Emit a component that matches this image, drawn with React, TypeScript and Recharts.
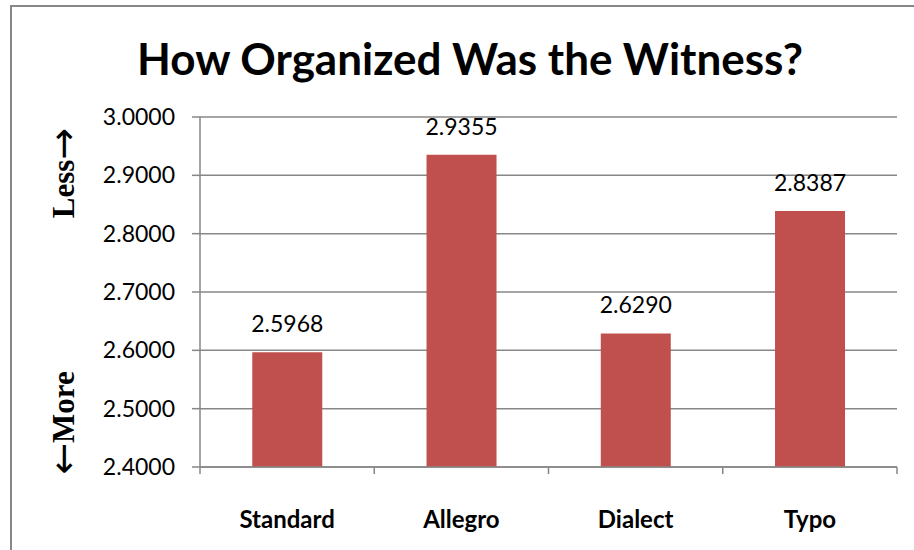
import React from "react";
import { BarChart, Bar, XAxis, YAxis, CartesianGrid, LabelList } from "recharts";

const categories = ["Standard", "Allegro", "Dialect", "Typo"];
const values = [2.5968, 2.9355, 2.629, 2.8387];
const yTicks = [2.4, 2.5, 2.6, 2.7, 2.8, 2.9, 3.0];
const titleText = "How Organized Was the Witness?";
const yLabelLowArrow = "\u2190";
const yLabelLowWord = "More";
const yLabelHighWord = "Less";
const yLabelHighArrow = "\u2192";

const data = categories.map((c, i) => ({ name: c, value: values[i] }));

const AXIS = "#878787";
const BAR = "#C0504D";
const SANS = "Lato, 'Open Sans', sans-serif";
const SERIF = "'Liberation Serif', 'Times New Roman', serif";
const ARROWFONT = "'DejaVu Sans', sans-serif";
const X_TICK_SIZE = 7;
const X_TICK_MARGIN = 24;

const XTick = (props: any) => {
  const { x, y, payload, index, visibleTicksCount, width } = props;
  const band = width / visibleTicksCount;
  const y0 = y - X_TICK_MARGIN - X_TICK_SIZE;
  const y1 = y - X_TICK_MARGIN;
  return (
    <g>
      <line x1={x - band / 2} x2={x - band / 2} y1={y0} y2={y1} stroke={AXIS} strokeWidth={1.5} />
      {index === visibleTicksCount - 1 && (
        <line x1={x + band / 2} x2={x + band / 2} y1={y0} y2={y1} stroke={AXIS} strokeWidth={1.5} />
      )}
      <text x={x} y={y} dy={30} textAnchor="middle" fontFamily={SANS} fontWeight={700} fontSize={24} fill="#000">
        {payload.value}
      </text>
    </g>
  );
};

const YLabel = (props: any) => {
  const vb = props.viewBox || {};
  const cx = 63;
  const top = vb.y;
  const h = vb.height;
  const yHigh = top + 56;
  const yLow = top + h - 44;
  return (
    <g>
      <text x={cx} y={yHigh} transform={`rotate(-90 ${cx} ${yHigh})`} textAnchor="middle" dominantBaseline="central"
        fontFamily={SERIF} fontWeight={700} fontSize={31} fill="#000">
        {yLabelHighWord}
        <tspan fontFamily={ARROWFONT} fontWeight={400} fontSize={38}>{yLabelHighArrow}</tspan>
      </text>
      <text x={cx} y={yLow} transform={`rotate(-90 ${cx} ${yLow})`} textAnchor="middle" dominantBaseline="central"
        fontFamily={SERIF} fontWeight={700} fontSize={31} fill="#000">
        <tspan fontFamily={ARROWFONT} fontWeight={400} fontSize={38}>{yLabelLowArrow}</tspan>
        {yLabelLowWord}
      </text>
    </g>
  );
};

export default function App() {
  return (
    <div style={{ position: "absolute", left: 0, top: 0, width: 914, height: 550, background: "#fff", overflow: "hidden" }}>
      <div style={{ position: "absolute", left: 10, top: 5, right: -4, bottom: -4, borderTop: `2px solid ${AXIS}`, borderLeft: `2px solid ${AXIS}` }} />
      <div style={{ position: "absolute", left: 20, width: 900, top: 31, textAlign: "center", fontFamily: SANS, fontWeight: 700, fontSize: 44, lineHeight: "54px", color: "#000" }}>
        {titleText}
      </div>
      <div style={{ position: "absolute", left: 0, top: 0 }}>
        <BarChart width={914} height={550} data={data} margin={{ top: 117, right: 17, bottom: 23, left: 0 }} barCategoryGap="30%">
          <CartesianGrid vertical={false} stroke={AXIS} strokeWidth={1.5} />
          <XAxis dataKey="name" height={60} axisLine={{ stroke: AXIS, strokeWidth: 1.5 }} tickLine={false}
            tickSize={X_TICK_SIZE} tickMargin={X_TICK_MARGIN} tick={<XTick />} interval={0} />
          <YAxis width={200} domain={[2.4, 3.0]} ticks={yTicks} allowDataOverflow
            tickFormatter={(v: number) => v.toFixed(4)} tickSize={8} tickMargin={17}
            axisLine={{ stroke: AXIS, strokeWidth: 1.5 }} tickLine={{ stroke: AXIS, strokeWidth: 1.5 }}
            tick={{ fill: "#000", fontFamily: SANS, fontSize: 23 }} label={<YLabel />} />
          <Bar dataKey="value" fill={BAR} isAnimationActive={false}>
            <LabelList dataKey="value" position="top" offset={20} formatter={(v: any) => Number(v).toFixed(4)}
              style={{ fill: "#000", fontFamily: SANS, fontSize: 23 }} />
          </Bar>
        </BarChart>
      </div>
    </div>
  );
}
